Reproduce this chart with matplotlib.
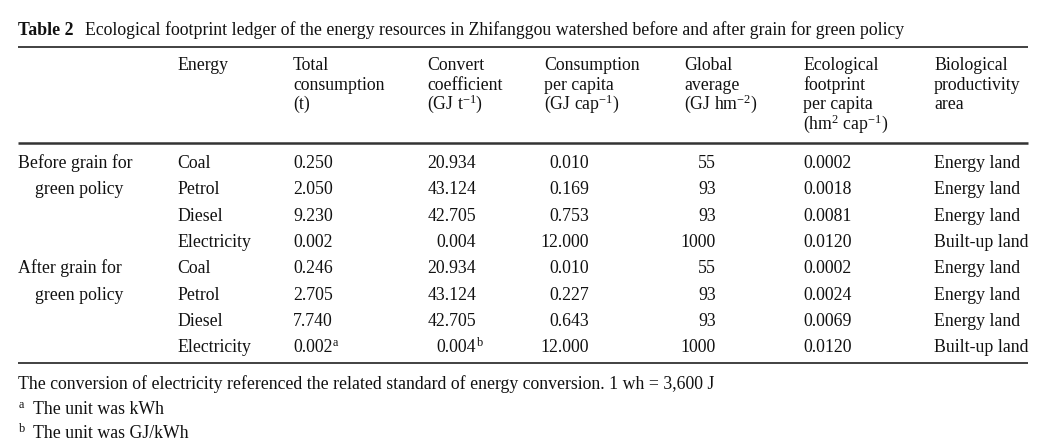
import matplotlib
matplotlib.use("Agg")
import matplotlib.pyplot as plt

plt.rcParams['font.family'] = ['Liberation Serif', 'DejaVu Serif']
plt.rcParams['mathtext.fontset'] = 'custom'
plt.rcParams['mathtext.rm'] = 'Liberation Serif'
plt.rcParams['mathtext.it'] = 'Liberation Serif:italic'
plt.rcParams['mathtext.bf'] = 'Liberation Serif:bold'

# table data
title_bold = "Table 2"
title_rest = "Ecological footprint ledger of the energy resources in Zhifanggou watershed before and after grain for green policy"
headers = [
    ["Energy"],
    ["Total", "consumption", "(t)"],
    ["Convert", "coefficient", r"(GJ t$^{-1}$)"],
    ["Consumption", "per capita", r"(GJ cap$^{-1}$)"],
    ["Global", "average", r"(GJ hm$^{-2}$)"],
    ["Ecological", "footprint", "per capita", r"(hm$^{2}$ cap$^{-1}$)"],
    ["Biological", "productivity", "area"],
]
groups = [["Before grain for", "green policy"], ["After grain for", "green policy"]]
energy = ["Coal", "Petrol", "Diesel", "Electricity", "Coal", "Petrol", "Diesel", "Electricity"]
total_consumption = [0.250, 2.050, 9.230, 0.002, 0.246, 2.705, 7.740, 0.002]
convert_coef = [20.934, 43.124, 42.705, 0.004, 20.934, 43.124, 42.705, 0.004]
per_capita = [0.010, 0.169, 0.753, 12.000, 0.010, 0.227, 0.643, 12.000]
global_avg = [55, 93, 93, 1000, 55, 93, 93, 1000]
footprint = [0.0002, 0.0018, 0.0081, 0.0120, 0.0002, 0.0024, 0.0069, 0.0120]
area = ["Energy land", "Energy land", "Energy land", "Built-up land",
        "Energy land", "Energy land", "Energy land", "Built-up land"]
# superscript marks on the last row (total, convert)
marks = {(7, 'total'): 'a', (7, 'conv'): 'b'}
footnotes = ["The conversion of electricity referenced the related standard of energy conversion. 1 wh = 3,600 J",
             "The unit was kWh",
             "The unit was GJ/kWh"]
foot_marks = ["", "a", "b"]

fig = plt.figure(figsize=(10.5, 4.48), dpi=100)
ax = fig.add_axes([0, 0, 1, 1])
ax.set_xlim(0, 1050)
ax.set_ylim(448, 0)
ax.axis('off')

fs = 12.8
col = '#111111'

# title
ax.text(18, 35, title_bold, fontsize=fs, fontweight='bold', color=col, va='baseline')
ax.text(85, 35, title_rest, fontsize=fs, color=col, va='baseline')

# rules
ax.hlines(47.5, 18, 1028, color='#333333', lw=1.3)
ax.hlines(143.5, 18, 1028, color='#333333', lw=1.8)
ax.hlines(363.5, 18, 1028, color='#333333', lw=1.3)

# header
head_x = [177, 293, 427, 544, 684, 803, 934]
head_y = [70, 89.5, 109, 128.5]
for x, lines in zip(head_x, headers):
    for i, s in enumerate(lines):
        ax.text(x, head_y[i], s, fontsize=fs, color=col, va='baseline', ha='left')

# body
row_y0 = 168
row_dy = 26.3
for g, lines in enumerate(groups):
    y = row_y0 + g * 4 * row_dy
    ax.text(18, y, lines[0], fontsize=fs, color=col, va='baseline')
    ax.text(35, y + row_dy, lines[1], fontsize=fs, color=col, va='baseline')

for i in range(len(energy)):
    y = row_y0 + i * row_dy
    ax.text(177, y, energy[i], fontsize=fs, color=col, va='baseline')
    s = "%.3f" % total_consumption[i]
    ax.text(293, y, s, fontsize=fs, color=col, va='baseline')
    if (i, 'total') in marks:
        ax.text(333, y - 6, marks[(i, 'total')], fontsize=fs * 0.7, color=col, va='baseline')
    s = "%.3f" % convert_coef[i]
    ax.text(476, y, s, fontsize=fs, color=col, va='baseline', ha='right')
    if (i, 'conv') in marks:
        ax.text(477, y - 6, marks[(i, 'conv')], fontsize=fs * 0.7, color=col, va='baseline')
    ax.text(589, y, "%.3f" % per_capita[i], fontsize=fs, color=col, va='baseline', ha='right')
    ax.text(716, y, "%d" % global_avg[i], fontsize=fs, color=col, va='baseline', ha='right')
    ax.text(803, y, "%.4f" % footprint[i], fontsize=fs, color=col, va='baseline')
    ax.text(934, y, area[i], fontsize=fs, color=col, va='baseline')

# footnotes
foot_y = [389, 414, 438]
for y, m, s in zip(foot_y, foot_marks, footnotes):
    if m:
        ax.text(19, y - 6, m, fontsize=fs * 0.7, color=col, va='baseline')
        ax.text(33, y, s, fontsize=fs, color=col, va='baseline')
    else:
        ax.text(18, y, s, fontsize=fs, color=col, va='baseline')

fig.savefig("out.png", dpi=100)
